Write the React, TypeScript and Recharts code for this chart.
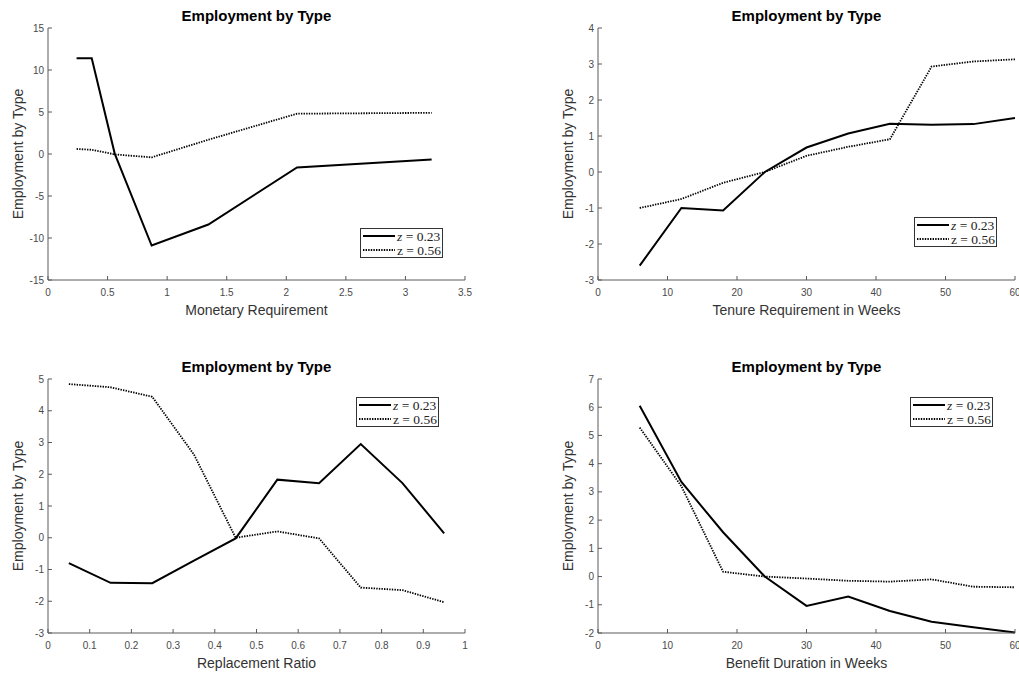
import React from "react";
import { LineChart, Line, XAxis, YAxis, Legend } from "recharts";

// ---- Panel 1: Monetary Requirement ----
const monetaryX = [0.24, 0.367, 0.56, 0.87, 1.346, 2.09, 3.22];
const monetaryLow = [11.4, 11.4, 0.05, -10.9, -8.4, -1.6, -0.65];
const monetaryHigh = [0.6, 0.5, -0.05, -0.4, 1.7, 4.8, 4.9];
const monetaryXTicks = [0, 0.5, 1, 1.5, 2, 2.5, 3, 3.5];
const monetaryYTicks = [-15, -10, -5, 0, 5, 10, 15];

// ---- Panel 2: Tenure Requirement ----
const tenureX = [6, 12, 18, 24, 30, 36, 42, 48, 54, 60];
const tenureLow = [-2.6, -1.0, -1.07, 0.0, 0.68, 1.07, 1.34, 1.31, 1.33, 1.5];
const tenureHigh = [-1.0, -0.75, -0.3, 0.0, 0.45, 0.7, 0.91, 2.93, 3.07, 3.13];
const tenureXTicks = [0, 10, 20, 30, 40, 50, 60];
const tenureYTicks = [-3, -2, -1, 0, 1, 2, 3, 4];

// ---- Panel 3: Replacement Ratio ----
const ratioX = [0.05, 0.15, 0.25, 0.35, 0.45, 0.55, 0.65, 0.75, 0.85, 0.95];
const ratioLow = [-0.8, -1.42, -1.43, -0.72, -0.02, 1.83, 1.72, 2.95, 1.72, 0.14];
const ratioHigh = [4.84, 4.74, 4.44, 2.62, 0.0, 0.2, -0.02, -1.57, -1.65, -2.03];
const ratioXTicks = [0, 0.1, 0.2, 0.3, 0.4, 0.5, 0.6, 0.7, 0.8, 0.9, 1];
const ratioYTicks = [-3, -2, -1, 0, 1, 2, 3, 4, 5];

// ---- Panel 4: Benefit Duration ----
const durationX = [6, 12, 18, 24, 30, 36, 42, 48, 54, 60];
const durationLow = [6.05, 3.35, 1.57, 0.0, -1.04, -0.71, -1.22, -1.6, -1.8, -1.98];
const durationHigh = [5.28, 3.2, 0.17, 0.0, -0.07, -0.15, -0.18, -0.1, -0.36, -0.38];
const durationXTicks = [0, 10, 20, 30, 40, 50, 60];
const durationYTicks = [-2, -1, 0, 1, 2, 3, 4, 5, 6, 7];

const seriesNames = ["z = 0.23", "z = 0.56"];

const AXIS_COLOR = "#5a5a5a";
const TEXT_COLOR = "#4a4a4a";
const SANS = "'Liberation Sans', Arial, Helvetica, sans-serif";
const SERIF = "'Liberation Serif', 'Times New Roman', serif";

function buildRows(xs: number[], a: number[], b: number[]) {
  return xs.map((x, i) => ({ x, low: a[i], high: b[i] }));
}

const XTick = (props: any) => {
  const { x, y, payload } = props;
  return (
    <g>
      <line x1={x} y1={y} x2={x} y2={y - 4} stroke={AXIS_COLOR} strokeWidth={1} />
      <text x={x} y={y + 16} textAnchor="middle" fontSize={10} fill={TEXT_COLOR} fontFamily={SANS}>
        {String(payload.value)}
      </text>
    </g>
  );
};

const YTick = (props: any) => {
  const { x, y, payload } = props;
  return (
    <g>
      <line x1={x} y1={y} x2={x + 4} y2={y} stroke={AXIS_COLOR} strokeWidth={1} />
      <text x={x - 4} y={y + 3.5} textAnchor="end" fontSize={10} fill={TEXT_COLOR} fontFamily={SANS}>
        {String(payload.value)}
      </text>
    </g>
  );
};

const LegendBox = () => (
  <svg width={84} height={31} style={{ display: "block", overflow: "visible" }}>
    <rect x={0.5} y={0.5} width={82} height={29} fill="#fff" stroke="#333" strokeWidth={1} />
    <line x1={3} y1={8} x2={35} y2={8} stroke="#000" strokeWidth={2} />
    <line x1={3} y1={22} x2={35} y2={22} stroke="#000" strokeWidth={1.8} strokeDasharray="1.4 1.2" />
    <text x={37} y={12.5} fontSize={13.5} fontFamily={SERIF} fill="#222">
      <tspan fontStyle="italic">z</tspan>
      <tspan> = 0.23</tspan>
    </text>
    <text x={37} y={26.5} fontSize={13.5} fontFamily={SERIF} fill="#222">
      {seriesNames[1]}
    </text>
  </svg>
);

type PanelProps = {
  left: number;
  top: number;
  height: number;
  plotLeft: number;
  plotRight: number;
  plotTop: number;
  plotBottom: number;
  xs: number[];
  low: number[];
  high: number[];
  xTicks: number[];
  yTicks: number[];
  xLabel: string;
  legendLeft: number;
  legendTop: number;
};

const Panel = (p: PanelProps) => {
  const width = 509;
  const data = buildRows(p.xs, p.low, p.high);
  const yAxisW = 40;
  const xAxisH = 30;
  const margin = {
    left: p.plotLeft - yAxisW,
    right: width - p.plotRight,
    top: p.plotTop,
    bottom: p.height - p.plotBottom - xAxisH,
  };
  const plotCenterX = (p.plotLeft + p.plotRight) / 2;
  const plotCenterY = (p.plotTop + p.plotBottom) / 2;
  return (
    <div style={{ position: "absolute", left: p.left, top: p.top, width, height: p.height }}>
      <div
        style={{
          position: "absolute",
          left: 0,
          width: plotCenterX * 2,
          top: p.plotTop - 21,
          textAlign: "center",
          fontFamily: SANS,
          fontWeight: "bold",
          fontSize: 15,
          lineHeight: "18px",
          color: "#000",
        }}
      >
        Employment by Type
      </div>
      <LineChart width={width} height={p.height} data={data} margin={margin}>
        <XAxis
          dataKey="x"
          type="number"
          domain={[p.xTicks[0], p.xTicks[p.xTicks.length - 1]]}
          ticks={p.xTicks}
          interval={0}
          height={xAxisH}
          tickSize={0}
          tickMargin={0}
          tickLine={false}
          tick={<XTick />}
          stroke={AXIS_COLOR}
          allowDecimals
          label={{
            content: () => (
              <text
                x={plotCenterX}
                y={p.plotBottom + 34.5}
                textAnchor="middle"
                fontSize={14}
                fontFamily={SANS}
                fill="#333"
              >
                {p.xLabel}
              </text>
            ),
          }}
        />
        <YAxis
          type="number"
          domain={[p.yTicks[0], p.yTicks[p.yTicks.length - 1]]}
          ticks={p.yTicks}
          interval={0}
          width={yAxisW}
          tickSize={0}
          tickMargin={0}
          tickLine={false}
          tick={<YTick />}
          stroke={AXIS_COLOR}
          label={{
            content: () => (
              <text
                x={p.plotLeft - 25}
                y={plotCenterY}
                textAnchor="middle"
                fontSize={14}
                fontFamily={SANS}
                fill="#333"
                transform={`rotate(-90 ${p.plotLeft - 25} ${plotCenterY})`}
              >
                Employment by Type
              </text>
            ),
          }}
        />
        <Legend
          layout="vertical"
          align="center"
          verticalAlign="middle"
          content={() => <LegendBox />}
          wrapperStyle={{ position: "absolute", left: p.legendLeft, top: p.legendTop, width: 84, height: 31 }}
        />
        <Line
          type="linear"
          dataKey="low"
          name={seriesNames[0]}
          stroke="#000"
          strokeWidth={2}
          dot={false}
          activeDot={false}
          isAnimationActive={false}
        />
        <Line
          type="linear"
          dataKey="high"
          name={seriesNames[1]}
          stroke="#000"
          strokeWidth={1.8}
          strokeDasharray="1.4 1.2"
          dot={false}
          activeDot={false}
          isAnimationActive={false}
        />
      </LineChart>
    </div>
  );
};

export default function App() {
  return (
    <div
      style={{
        position: "absolute",
        left: 0,
        top: 0,
        width: 1019,
        height: 673,
        background: "#fff",
        overflow: "hidden",
      }}
    >
      <Panel
        left={0}
        top={0}
        height={336}
        plotLeft={48}
        plotRight={465}
        plotTop={28}
        plotBottom={280}
        xs={monetaryX}
        low={monetaryLow}
        high={monetaryHigh}
        xTicks={monetaryXTicks}
        yTicks={monetaryYTicks}
        xLabel="Monetary Requirement"
        legendLeft={360}
        legendTop={228}
      />
      <Panel
        left={510}
        top={0}
        height={336}
        plotLeft={88}
        plotRight={505}
        plotTop={28}
        plotBottom={280}
        xs={tenureX}
        low={tenureLow}
        high={tenureHigh}
        xTicks={tenureXTicks}
        yTicks={tenureYTicks}
        xLabel="Tenure Requirement in Weeks"
        legendLeft={404}
        legendTop={217}
      />
      <Panel
        left={0}
        top={340}
        height={333}
        plotLeft={48}
        plotRight={465}
        plotTop={39}
        plotBottom={293}
        xs={ratioX}
        low={ratioLow}
        high={ratioHigh}
        xTicks={ratioXTicks}
        yTicks={ratioYTicks}
        xLabel="Replacement Ratio"
        legendLeft={356}
        legendTop={57}
      />
      <Panel
        left={510}
        top={340}
        height={333}
        plotLeft={88}
        plotRight={505}
        plotTop={39}
        plotBottom={293}
        xs={durationX}
        low={durationLow}
        high={durationHigh}
        xTicks={durationXTicks}
        yTicks={durationYTicks}
        xLabel="Benefit Duration in Weeks"
        legendLeft={400}
        legendTop={57}
      />
    </div>
  );
}
